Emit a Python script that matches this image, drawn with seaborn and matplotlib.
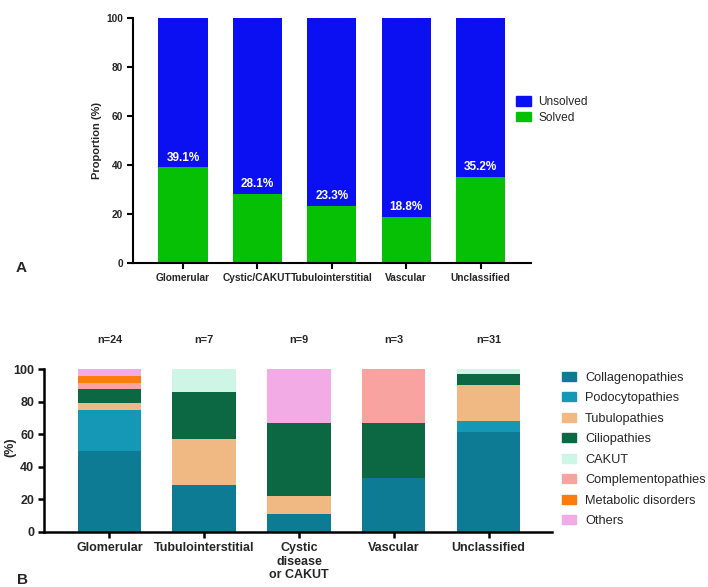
import matplotlib
matplotlib.use("Agg")
import matplotlib.pyplot as plt
import matplotlib.patches as mpatches
import seaborn as sns
import numpy as np
import pandas as pd

sns.set_style("white")
plt.rcParams['font.family'] = ['Liberation Sans', 'DejaVu Sans']

# ---------------- Data: panel A ----------------
cats_a = ["Glomerular", "Cystic/CAKUT", "Tubulointerstitial", "Vascular", "Unclassified"]
solved = [39.1, 28.1, 23.3, 18.8, 35.2]
total_a = [100, 100, 100, 100, 100]
labels_a = ["39.1%", "28.1%", "23.3%", "18.8%", "35.2%"]

# ---------------- Data: panel B ----------------
cats_b = ["Glomerular", "Tubulointerstitial", "Cystic\ndisease\nor CAKUT", "Vascular", "Unclassified"]
n_labels = ["n=24", "n=7", "n=9", "n=3", "n=31"]
groups = ["Collagenopathies", "Podocytopathies", "Tubulopathies", "Ciliopathies",
          "CAKUT", "Complementopathies", "Metabolic disorders", "Others"]
collagen = [50.0, 28.6, 11.1, 33.3, 61.3]
podocyto = [25.0, 0.0, 0.0, 0.0, 6.5]
tubulo = [4.2, 28.6, 11.1, 0.0, 22.6]
cilio = [8.3, 28.6, 44.4, 33.3, 6.5]
cakut = [0.0, 14.2, 0.0, 0.0, 3.1]
complement = [4.2, 0.0, 0.0, 33.4, 0.0]
metabolic = [4.2, 0.0, 0.0, 0.0, 0.0]
others = [4.1, 0.0, 33.4, 0.0, 0.0]

colors_b = ["#0e7b94", "#1598b5", "#f0b984", "#0b6842", "#cff5e7", "#f8a3a0", "#fb7d0c", "#f3abe6"]
blue = "#0a10f2"
green = "#05c005"

fig = plt.figure(figsize=(7.08, 5.87), dpi=100)

# ---------------- Panel A ----------------
axA = fig.add_axes([132.6 / 708, 1 - 263 / 587, (531 - 132.6) / 708, (263 - 18) / 587])
dfa = pd.DataFrame({"cat": cats_a, "total": total_a, "solved": solved})
sns.barplot(data=dfa, x="cat", y="total", order=cats_a, color=blue, saturation=1,
            width=0.66, linewidth=0, ax=axA)
sns.barplot(data=dfa, x="cat", y="solved", order=cats_a, color=green, saturation=1,
            width=0.66, linewidth=0, ax=axA)
for i, (v, t) in enumerate(zip(solved, labels_a)):
    axA.text(i, v + 1.5, t, ha="center", va="bottom", color="white",
             fontsize=8.5, fontweight="bold")
axA.set_xlim(-0.677, 4.677)
axA.set_ylim(0, 100)
axA.set_yticks([0, 20, 40, 60, 80, 100])
axA.set_xlabel("")
axA.set_ylabel("Proportion (%)", fontsize=8, fontweight="bold")
axA.yaxis.set_label_coords((102 - 132.6) / (531 - 132.6), 0.5)
for s in ["top", "right"]:
    axA.spines[s].set_visible(False)
for s in ["left", "bottom"]:
    axA.spines[s].set_color("black")
    axA.spines[s].set_linewidth(1.5)
axA.tick_params(axis="both", which="both", direction="out", length=4, width=1.5,
                color="black", left=True, bottom=True, labelsize=7.3, pad=3)
for lab in axA.get_xticklabels() + axA.get_yticklabels():
    lab.set_fontweight("bold")
handles_a = [mpatches.Patch(color=blue, label="Unsolved"),
             mpatches.Patch(color=green, label="Solved")]
fig.legend(handles=handles_a, loc="upper left", bbox_to_anchor=(516 / 708, 1 - 96 / 587),
           frameon=False, fontsize=8.6, handlelength=1.25, handleheight=0.85,
           handletextpad=0.6, labelspacing=0.3, borderaxespad=0, borderpad=0)
fig.text(16 / 708, 1 - 268 / 587, "A", fontsize=11, fontweight="bold", va="center", ha="left")

# ---------------- Panel B ----------------
axB = fig.add_axes([44 / 708, 1 - 532 / 587, (552 - 44) / 708, (532 - 369) / 587])
series = [collagen, podocyto, tubulo, cilio, cakut, complement, metabolic, others]
cum = np.cumsum(np.array(series), axis=0)
for k in range(len(groups) - 1, -1, -1):
    dfb = pd.DataFrame({"cat": cats_b, "val": np.minimum(cum[k], 100)})
    sns.barplot(data=dfb, x="cat", y="val", order=cats_b, color=colors_b[k], saturation=1,
                width=0.67, linewidth=0, ax=axB)
axB.set_xlim(-0.69, 4.67)
axB.set_ylim(0, 100)
axB.set_yticks([0, 20, 40, 60, 80, 100])
axB.set_xlabel("")
axB.set_ylabel("(%)", fontsize=9, fontweight="bold")
axB.yaxis.set_label_coords((16 - 44) / (552 - 44), 0.52)
for s in ["top", "right"]:
    axB.spines[s].set_visible(False)
for s in ["left", "bottom"]:
    axB.spines[s].set_color("black")
    axB.spines[s].set_linewidth(1.8)
axB.tick_params(axis="both", which="both", direction="out", length=4, width=1.8,
                color="black", left=True, bottom=True, labelsize=9, pad=3)
for lab in axB.get_xticklabels() + axB.get_yticklabels():
    lab.set_fontweight("bold")
    lab.set_linespacing(1.2)
for i, t in enumerate(n_labels):
    axB.text(i, 1.18, t, transform=axB.get_xaxis_transform(), ha="center", va="center",
             fontsize=7.8, fontweight="bold")
handles_b = [mpatches.Patch(color=c, label=g) for c, g in zip(colors_b, groups)]
fig.legend(handles=handles_b, loc="upper left", bbox_to_anchor=(562 / 708, 1 - 372 / 587),
           frameon=False, fontsize=9.2, handlelength=1.1, handleheight=0.7,
           handletextpad=0.7, labelspacing=0.66, borderaxespad=0, borderpad=0)
fig.text(17 / 708, 1 - 580 / 587, "B", fontsize=11, fontweight="bold", va="center", ha="left")

fig.savefig("out.png", dpi=100)
